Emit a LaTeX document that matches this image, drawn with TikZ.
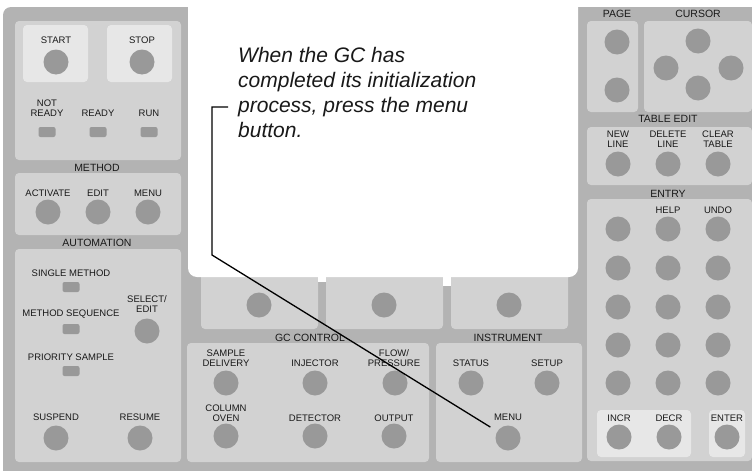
\documentclass[tikz,border=0pt]{standalone}
\usepackage{fontspec}
\setmainfont{Liberation Sans}
\usetikzlibrary{positioning}
\definecolor{framegray}{RGB}{179,179,179}
\definecolor{panelgray}{RGB}{210,210,210}
\definecolor{boxgray}{RGB}{231,231,231}
\definecolor{btngray}{RGB}{153,153,153}
\definecolor{inkgray}{RGB}{25,25,25}

\begin{document}
\begin{tikzpicture}[x=1pt, y=-1pt]
\tikzstyle{panel} = [fill=panelgray, rounded corners=4pt]
\tikzstyle{keybox} = [fill=boxgray, rounded corners=4pt]
\tikzstyle{btn} = [circle, fill=btngray, minimum size=25pt, inner sep=0pt]
\tikzstyle{led} = [rectangle, fill=btngray, rounded corners=2pt, minimum width=17pt, minimum height=10pt, inner sep=0pt]
\tikzstyle{lbl} = [font=\fontsize{9.5}{10}\selectfont, align=center, inner sep=0pt, text=inkgray]
\tikzstyle{head} = [font=\fontsize{10.5}{11}\selectfont, inner sep=0pt, text=inkgray]
\tikzstyle{pointer} = [line width=1.3pt, shorten >=8pt]

\useasboundingbox (0,0) rectangle (752,471);
\fill[framegray, rounded corners=8pt] (3,7) rectangle (780,500);

% panels under the screen
\fill[panel] (201,250) rectangle (318,329);
\fill[panel] (326,250) rectangle (443,329);
\fill[panel] (451,250) rectangle (568,329);
\fill[white, rounded corners=9pt] (188,-20) rectangle (578,277);
\fill[white] (318,270) rectangle (326,282);
\fill[white] (443,270) rectangle (451,286);
\node[btn] (softa) at (259,305) {};
\node[btn] (softb) at (384,305) {};
\node[btn] (softc) at (509,305) {};

% run control
\fill[panel] (15,21) rectangle (181,160);
\fill[keybox] (23,25) rectangle (88,82);
\fill[keybox] (107,25) rectangle (172,82);
\node[lbl] (startlbl) at (56,40) {START};
\node[btn] (start) at (56,62) {};
\node[lbl] (stoplbl) at (142,40) {STOP};
\node[btn] (stop) at (142,62) {};
\node[lbl] (notreadylbl) at (47,108) {NOT\\READY};
\node[led] (notready) at (47,132) {};
\node[lbl] (readylbl) at (98,113) {READY};
\node[led] (ready) at (98,132) {};
\node[lbl] (runlbl) at (149,113) {RUN};
\node[led] (run) at (149,132) {};

% method
\node[head] (methodhead) at (97,168) {METHOD};
\fill[panel] (15,173) rectangle (181,235);
\node[lbl] (activatelbl) at (48,193) {ACTIVATE};
\node[btn] (activate) at (48,212) {};
\node[lbl] (editlbl) at (98,193) {EDIT};
\node[btn] (edit) at (98,212) {};
\node[lbl] (methmenulbl) at (148,193) {MENU};
\node[btn] (methmenu) at (148,212) {};

% automation
\node[head] (autohead) at (97,243) {AUTOMATION};
\fill[panel] (15,249) rectangle (181,462);
\node[lbl] (singlelbl) at (71,273) {SINGLE METHOD};
\node[led] (single) at (71,287) {};
\node[lbl] (seqlbl) at (71,314) {METHOD SEQUENCE};
\node[led] (seq) at (71,329) {};
\node[lbl] (prioritylbl) at (71,357) {PRIORITY SAMPLE};
\node[led] (priority) at (71,371) {};
\node[lbl] (selectlbl) at (147,304.5) {SELECT/\\EDIT};
\node[btn] (select) at (147,331) {};
\node[lbl] (suspendlbl) at (56,417) {SUSPEND};
\node[btn] (suspend) at (56,438) {};
\node[lbl] (resumelbl) at (140,417) {RESUME};
\node[btn] (resume) at (140,438) {};

% gc control
\node[head] (gchead) at (310,338) {GC CONTROL};
\fill[panel] (187,343) rectangle (429,462);
\node[lbl] (samplelbl) at (226,358) {SAMPLE\\DELIVERY};
\node[btn] (sample) at (226,383) {};
\node[lbl] (injectorlbl) at (315,363) {INJECTOR};
\node[btn] (injector) at (315,383) {};
\node[lbl] (flowlbl) at (394,358) {FLOW/\\PRESSURE};
\node[btn] (flow) at (395,383) {};
\node[lbl] (columnlbl) at (226,413) {COLUMN\\OVEN};
\node[btn] (column) at (226,436) {};
\node[lbl] (detectorlbl) at (315,418) {DETECTOR};
\node[btn] (detector) at (315,436) {};
\node[lbl] (outputlbl) at (394,418) {OUTPUT};
\node[btn] (output) at (394,436) {};

% instrument
\node[head] (insthead) at (508,338) {INSTRUMENT};
\fill[panel] (436,343) rectangle (582,462);
\node[lbl] (statuslbl) at (471,363) {STATUS};
\node[btn] (status) at (471,383) {};
\node[lbl] (setuplbl) at (547,363) {SETUP};
\node[btn] (setup) at (547,383) {};
\node[lbl] (instmenulbl) at (508,417) {MENU};
\node[btn] (instmenu) at (508,438) {};

% page and cursor
\node[head] (pagehead) at (617,14) {PAGE};
\node[head] (cursorhead) at (698,14) {CURSOR};
\fill[panel] (587,21) rectangle (638,112);
\fill[panel] (644,21) rectangle (752,112);
\node[btn] (pageup) at (617,42) {};
\node[btn] (pagedown) at (617,90) {};
\node[btn] (curup) at (698,41) {};
\node[btn] (curleft) at (666,68) {};
\node[btn] (curright) at (731,68) {};
\node[btn] (curdown) at (698,88) {};

% table edit
\node[head] (tablehead) at (668,119) {TABLE EDIT};
\fill[panel] (587,127) rectangle (752,185);
\node[lbl] (newlbl) at (618,139.5) {NEW\\LINE};
\node[btn] (newline) at (618,164) {};
\node[lbl] (deletelbl) at (668,139.5) {DELETE\\LINE};
\node[btn] (deleteline) at (668,164) {};
\node[lbl] (clearlbl) at (718,139.5) {CLEAR\\TABLE};
\node[btn] (cleartable) at (718,164) {};

% entry
\node[head] (entryhead) at (668,194) {ENTRY};
\fill[panel] (587,199) rectangle (752,461);
\node[lbl] (helplbl) at (668,210) {HELP};
\node[lbl] (undolbl) at (718,210) {UNDO};
\foreach \r/\y in {1/229, 2/268, 3/307, 4/345, 5/383}
  \foreach \c/\x in {1/618, 2/668, 3/718}
    \node[btn] (key\r\c) at (\x,\y) {};
\fill[keybox] (597,410) rectangle (691,457);
\fill[keybox] (709,410) rectangle (745,457);
\node[lbl] (incrlbl) at (619,418) {INCR};
\node[btn] (incr) at (619,437) {};
\node[lbl] (decrlbl) at (669,418) {DECR};
\node[btn] (decr) at (669,437) {};
\node[lbl] (enterlbl) at (727,418) {ENTER};
\node[btn] (enter) at (727,437) {};

% screen note
\node[anchor=north west, align=left, inner sep=0pt, text=inkgray, font=\fontsize{21}{25}\selectfont\itshape] (note) at (238,47) {When the GC has\\completed its initialization\\process, press the menu\\button.};
\coordinate (tickend) at (228,107);
\coordinate (tickcorner) at (212,107);
\coordinate (bend) at (212,255);
\draw[pointer] (tickend) -- (tickcorner) -- (bend) -- (instmenu);
\end{tikzpicture}
\end{document}
